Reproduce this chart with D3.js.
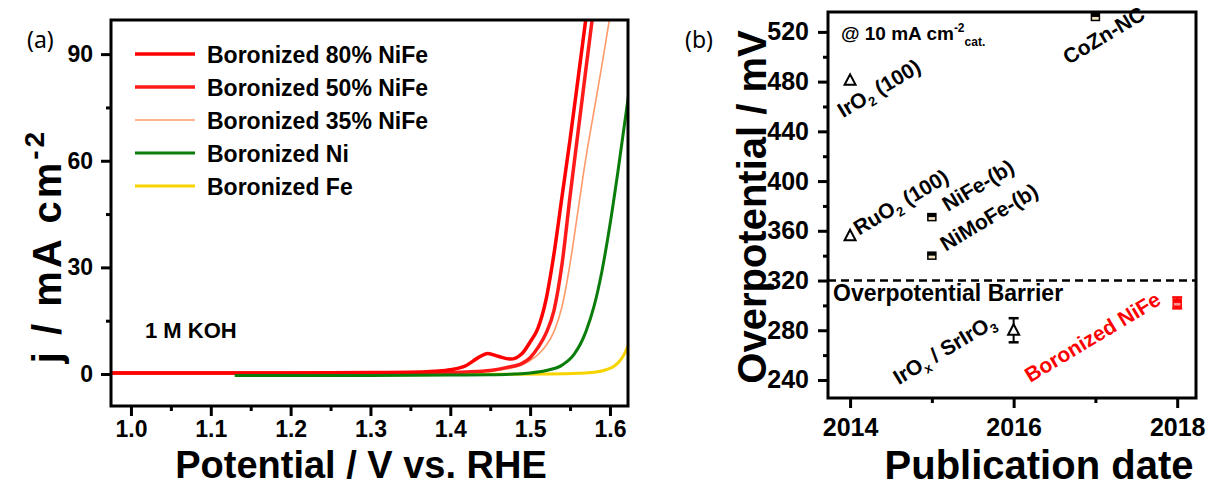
<!DOCTYPE html>
<html>
<head>
<meta charset="utf-8">
<script src="https://cdn.jsdelivr.net/npm/d3@7"></script>
<style>
  body { margin: 0; background: #fff; }
  svg text { font-family: "Liberation Sans", Arial, sans-serif; font-weight: bold; fill: #000; }
</style>
</head>
<body>
<div id="chart"></div>
<script>
// ---- panel (a): polarisation curves, potential (V vs RHE) / current density (mA cm-2)
const nife80V = [0.975, 1.05, 1.13, 1.2, 1.3, 1.35, 1.38, 1.40, 1.42, 1.435, 1.447, 1.46, 1.475, 1.49, 1.50, 1.51, 1.52, 1.53, 1.54, 1.55, 1.56, 1.571];
const nife80J = [0.3, 0.3, 0.3, 0.3, 0.4, 0.5, 0.8, 1.2, 2.4, 4.6, 5.8, 5.0, 4.2, 5.8, 9, 13, 21, 34, 50, 66, 83, 102];
const nife50V = [0.975, 1.13, 1.3, 1.38, 1.42, 1.45, 1.47, 1.49, 1.50, 1.51, 1.52, 1.53, 1.54, 1.55, 1.56, 1.57, 1.579];
const nife50J = [0.3, 0.3, 0.3, 0.4, 0.6, 1.0, 1.8, 3.0, 4.6, 7.5, 11.5, 18, 31, 50, 68, 86, 102];
const nife35V = [1.13, 1.3, 1.38, 1.42, 1.45, 1.47, 1.49, 1.50, 1.51, 1.52, 1.53, 1.54, 1.55, 1.56, 1.57, 1.58, 1.59, 1.601];
const nife35J = [0.1, 0.1, 0.3, 0.5, 0.8, 1.4, 2.6, 3.8, 5.5, 8, 12, 19, 31, 46, 61, 74, 87, 102];
const niV = [1.13, 1.3, 1.4, 1.45, 1.48, 1.50, 1.52, 1.54, 1.555, 1.57, 1.58, 1.59, 1.60, 1.61, 1.623];
const niJ = [-0.4, -0.4, -0.3, -0.2, 0, 0.3, 1.0, 2.5, 5.5, 12, 19, 29, 42, 57, 78];
const feV = [1.13, 1.3, 1.45, 1.52, 1.56, 1.58, 1.595, 1.605, 1.612, 1.618, 1.623];
const feJ = [-0.2, -0.2, -0.1, 0, 0.2, 0.5, 1.2, 2.2, 3.6, 5.6, 8.2];

const seriesNames = ["Boronized 80% NiFe", "Boronized 50% NiFe", "Boronized 35% NiFe", "Boronized Ni", "Boronized Fe"];
const seriesColors = ["#ff0000", "#ff1a1a", "#ff9a6a", "#0a7d0a", "#f7d400"];
const seriesWidths = [3.5, 3.5, 1.6, 3, 3];

const xTicksA = [1.0, 1.1, 1.2, 1.3, 1.4, 1.5, 1.6];
const yTicksA = [0, 30, 60, 90];

// ---- panel (b): overpotential at 10 mA cm-2 vs publication year
const catLabels = ["IrO_2 (100)", "RuO_2 (100)", "NiFe-(b)", "NiMoFe-(b)", "IrO_x / SrIrO_3", "CoZn-NC", "Boronized NiFe"];
const catYears = [2014, 2014, 2015, 2015, 2016, 2017, 2018];
const catEta = [481, 356, 371, 340, 280, 532, 302];
const catErr = [0, 0, 0, 0, 9.7, 0, 4.4];
const catMarker = ["triangle", "triangle", "square", "square", "triangle", "square", "square"];
const barrierEta = 320;

const xTicksB = [2014, 2016, 2018];
const yTicksB = [240, 280, 320, 360, 400, 440, 480, 520];

// label offsets from each marker (px) and its colour
const labelDx = [-7, 9, 16, 14, -115, -27, -147];
const labelDy = [38, 0, -5, -4, 55, 48, 80];
const labelColor = ["#000", "#000", "#000", "#000", "#000", "#000", "#ff0000"];

const W = 1209, H = 488;
const svg = d3.select("#chart").append("svg")
  .attr("width", W).attr("height", H);

// ================= panel (a)
const xa = d3.scaleLinear().domain([0.975, 1.6226]).range([111, 628]);
const ya = d3.scaleLinear().domain([-9, 99.6]).range([406, 20]);

svg.append("clipPath").attr("id", "clipA")
  .append("rect").attr("x", 111).attr("y", 20).attr("width", 517).attr("height", 386);

const curves = [
  [nife80V, nife80J], [nife50V, nife50J], [nife35V, nife35J], [niV, niJ], [feV, feJ]
];
const drawOrder = [4, 2, 1, 0, 3];
const line = d3.line().x(d => xa(d[0])).y(d => ya(d[1])).curve(d3.curveMonotoneX);

const gCurves = svg.append("g").attr("clip-path", "url(#clipA)");
drawOrder.forEach(i => {
  const pts = curves[i][0].map((v, k) => [v, curves[i][1][k]]);
  gCurves.append("path")
    .attr("d", line(pts))
    .attr("fill", "none")
    .attr("stroke", seriesColors[i])
    .attr("stroke-width", seriesWidths[i])
    .attr("stroke-linejoin", "round");
});

// axes (a)
const axA = svg.append("g");
axA.append("g").attr("transform", "translate(111,0)")
  .call(d3.axisLeft(ya).tickValues(yTicksA).tickSize(10).tickPadding(8).tickFormat(d3.format("d")));
axA.append("g").attr("transform", "translate(111,0)")
  .call(d3.axisLeft(ya).tickValues([15, 45, 75]).tickSize(5).tickFormat(""));
axA.append("g").attr("transform", "translate(0,406)")
  .call(d3.axisBottom(xa).tickValues(xTicksA).tickSize(10).tickPadding(5).tickFormat(d3.format(".1f")));
axA.append("g").attr("transform", "translate(0,406)")
  .call(d3.axisBottom(xa).tickValues([1.05, 1.15, 1.25, 1.35, 1.45, 1.55]).tickSize(5).tickFormat(""));
axA.selectAll(".domain").remove();
axA.selectAll(".tick line").attr("stroke", "#000").attr("stroke-width", 3);
axA.selectAll(".tick text").attr("font-size", 23);

svg.append("rect").attr("x", 111).attr("y", 20).attr("width", 517).attr("height", 386)
  .attr("fill", "none").attr("stroke", "#000").attr("stroke-width", 3);

// legend
const leg = svg.append("g");
seriesNames.forEach((name, i) => {
  const yy = 54 + i * 33;
  leg.append("line").attr("x1", 135).attr("x2", 195).attr("y1", yy).attr("y2", yy)
    .attr("stroke", seriesColors[i]).attr("stroke-width", seriesWidths[i]);
  leg.append("text").attr("x", 207).attr("y", yy + 8.5).attr("font-size", 23).text(name);
});

svg.append("text").attr("x", 145).attr("y", 338).attr("font-size", 22).text("1 M KOH");

svg.append("text").attr("x", 361).attr("y", 478).attr("text-anchor", "middle")
  .attr("font-size", 38).text("Potential / V vs. RHE");

const yTitleA = svg.append("text").attr("transform", "translate(61,246) rotate(-90)")
  .attr("text-anchor", "middle").attr("font-size", 40).attr("letter-spacing", 3);
yTitleA.append("tspan").text("j / mA cm");
yTitleA.append("tspan").attr("dy", -17).attr("font-size", 28).text("-2");

svg.append("text").attr("x", 27).attr("y", 48)
  .style("font-family", "'Noto Sans', 'DejaVu Sans', sans-serif").style("font-weight", "normal")
  .attr("font-size", 23).text("(a)");

// ================= panel (b)
const xb = d3.scaleLinear().domain([2013.73, 2018.23]).range([828, 1196]);
const yb = d3.scaleLinear().domain([225.5, 536]).range([398, 12]);

const axB = svg.append("g");
axB.append("g").attr("transform", "translate(828,0)")
  .call(d3.axisLeft(yb).tickValues(yTicksB).tickSize(10).tickPadding(9).tickFormat(d3.format("d")));
axB.append("g").attr("transform", "translate(828,0)")
  .call(d3.axisLeft(yb).tickValues([260, 300, 340, 380, 420, 460, 500]).tickSize(5).tickFormat(""));
axB.append("g").attr("class", "xb").attr("transform", "translate(0,398)")
  .call(d3.axisBottom(xb).tickValues(xTicksB).tickSize(10).tickPadding(10).tickFormat(d3.format("d")));
axB.append("g").attr("transform", "translate(0,398)")
  .call(d3.axisBottom(xb).tickValues([2015, 2017]).tickSize(5).tickFormat(""));
axB.selectAll(".domain").remove();
axB.selectAll(".tick line").attr("stroke", "#000").attr("stroke-width", 3);
axB.selectAll(".tick text").attr("font-size", 25);

svg.append("rect").attr("x", 828).attr("y", 12).attr("width", 368).attr("height", 386)
  .attr("fill", "none").attr("stroke", "#000").attr("stroke-width", 3);

// overpotential barrier
svg.append("line").attr("x1", 828).attr("x2", 1196)
  .attr("y1", yb(barrierEta)).attr("y2", yb(barrierEta))
  .attr("stroke", "#000").attr("stroke-width", 2.5).attr("stroke-dasharray", "8,5");
svg.append("text").attr("x", 833).attr("y", yb(barrierEta) + 20).attr("font-size", 23)
  .text("Overpotential Barrier");

// markers
const gPts = svg.append("g");
catYears.forEach((yr, i) => {
  const cx = xb(yr), cy = yb(catEta[i]);
  const col = labelColor[i];
  if (catErr[i] > 0) {
    const y1 = yb(catEta[i] + catErr[i]), y2 = yb(catEta[i] - catErr[i]);
    gPts.append("line").attr("x1", cx).attr("x2", cx).attr("y1", y1).attr("y2", y2)
      .attr("stroke", col).attr("stroke-width", 2);
    [y1, y2].forEach(yy => gPts.append("line").attr("x1", cx - 5).attr("x2", cx + 5)
      .attr("y1", yy).attr("y2", yy).attr("stroke", col).attr("stroke-width", 2.5));
  }
  if (catMarker[i] === "triangle") {
    gPts.append("path")
      .attr("d", `M${cx},${cy - 6}L${cx + 5.5},${cy + 4.5}L${cx - 5.5},${cy + 4.5}Z`)
      .attr("fill", "#fff").attr("stroke", col).attr("stroke-width", 2);
  } else {
    gPts.append("rect").attr("x", cx - 4).attr("y", cy - 3.5).attr("width", 8).attr("height", 7)
      .attr("fill", col === "#000" ? "#f4e4c4" : "#ff9090").attr("stroke", col).attr("stroke-width", 1.5);
    gPts.append("rect").attr("x", cx - 4).attr("y", cy - 3.5).attr("width", 8).attr("height", 3.5)
      .attr("fill", col);
  }
});

// rotated labels, "_x" marks a subscript character
catLabels.forEach((lab, i) => {
  const cx = xb(catYears[i]) + labelDx[i], cy = yb(catEta[i]) + labelDy[i];
  const t = svg.append("text").attr("transform", `translate(${cx},${cy}) rotate(-31)`)
    .attr("font-size", 21).style("fill", labelColor[i]);
  const parts = lab.split(/_(\w)/);
  parts.forEach((p, k) => {
    if (!p) return;
    if (k % 2 === 1) {
      t.append("tspan").attr("dy", 5).attr("font-size", 13).text(p);
    } else {
      t.append("tspan").attr("dy", k > 0 ? -5 : 0).text(p);
    }
  });
});

const cond = svg.append("text").attr("x", 841).attr("y", 40).attr("font-size", 19);
cond.append("tspan").text("@ 10 mA cm");
cond.append("tspan").attr("dy", -8).attr("font-size", 12).text("-2");
cond.append("tspan").attr("dy", 14).attr("font-size", 12).text("cat.");

svg.append("text").attr("x", 1039).attr("y", 479).attr("text-anchor", "middle")
  .attr("font-size", 40).text("Publication date");

svg.append("text").attr("transform", "translate(766,207) rotate(-90)")
  .attr("text-anchor", "middle").attr("font-size", 40).text("Overpotential / mV");

svg.append("text").attr("x", 685).attr("y", 48)
  .style("font-family", "'Noto Sans', 'DejaVu Sans', sans-serif").style("font-weight", "normal")
  .attr("font-size", 23).text("(b)");
</script>
</body>
</html>
